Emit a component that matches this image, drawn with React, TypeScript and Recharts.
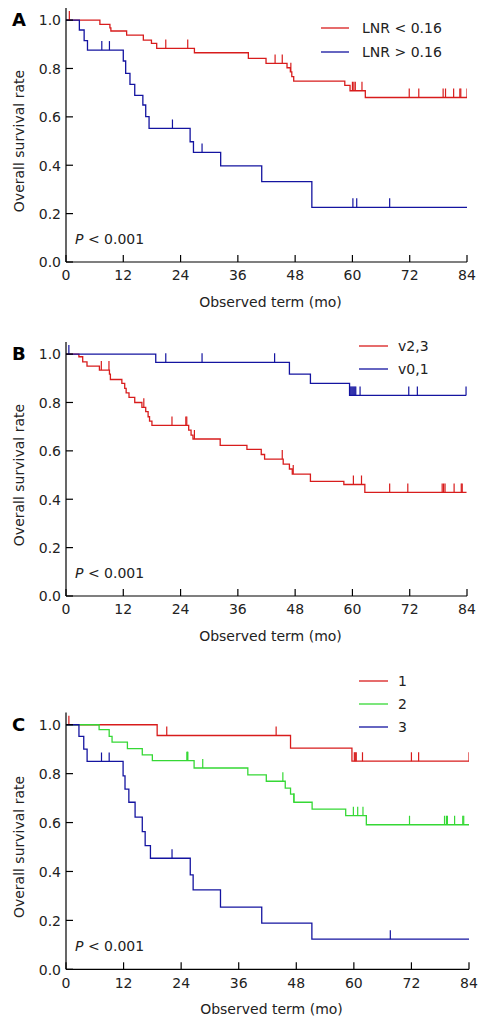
import React from "react";
import { ComposedChart, Line, Scatter, XAxis, YAxis, Legend } from "recharts";

const FONT = "'DejaVu Sans', Verdana, sans-serif";
const RED = "#d81c1c";
const BLUE = "#1414a0";
const GREEN = "#35d835";

const xTicks = [0, 12, 24, 36, 48, 60, 72, 84];
const yTicks = [0, 0.2, 0.4, 0.6, 0.8, 1.0];

// panel A
const aLowTimes = [0, 7.1, 9.2, 9.4, 12.7, 16.2, 17.9, 19.0, 26.9, 38.2, 41.9, 46.3, 47.0, 47.3, 47.7, 58.4, 59.5, 62.7, 84];
const aLowSurv = [1, 0.982, 0.968, 0.955, 0.938, 0.917, 0.904, 0.883, 0.865, 0.842, 0.821, 0.803, 0.786, 0.766, 0.748, 0.73, 0.708, 0.68, 0.68];
const aLowCensor = [0.7, 20.9, 25.5, 43.8, 45.3, 47.1, 60.0, 60.3, 60.6, 62.0, 71.9, 73.9, 79.0, 79.5, 81.2, 82.5, 82.7, 84];
const aHighTimes = [0, 2.8, 3.8, 4.5, 12.0, 12.5, 13.4, 14.4, 16.1, 16.7, 17.4, 26.0, 26.7, 32.4, 41.0, 51.5, 84];
const aHighSurv = [1, 0.959, 0.915, 0.876, 0.831, 0.78, 0.734, 0.689, 0.649, 0.601, 0.552, 0.497, 0.453, 0.397, 0.332, 0.226, 0.226];
const aHighCensor = [7.5, 9.1, 22.3, 28.5, 60.1, 60.9, 67.8];

// panel B
const bV23Times = [0, 2.7, 3.5, 4.4, 7.0, 9.1, 9.3, 11.7, 12.3, 12.6, 13.2, 14.4, 15.9, 16.7, 17.2, 17.5, 18.0, 25.7, 26.2, 26.6, 32.3, 37.9, 40.9, 41.6, 45.5, 46.8, 47.4, 51.2, 58.2, 62.6, 83.9];
const bV23Surv = [1, 0.989, 0.968, 0.95, 0.934, 0.917, 0.895, 0.879, 0.858, 0.84, 0.821, 0.8, 0.78, 0.762, 0.741, 0.723, 0.705, 0.686, 0.665, 0.649, 0.623, 0.606, 0.585, 0.566, 0.545, 0.525, 0.504, 0.474, 0.461, 0.428, 0.428];
const bV23Censor = [7.4, 9.0, 16.3, 22.2, 25.1, 25.3, 26.9, 45.3, 47.6, 60.2, 61.9, 67.8, 71.6, 78.8, 79.1, 79.4, 81.3, 82.8, 83.0];
const bV01Times = [0, 18.8, 46.8, 51.2, 59.4, 83.8];
const bV01Surv = [1, 0.966, 0.917, 0.879, 0.829, 0.829];
const bV01Censor = [0.6, 20.9, 28.5, 43.7, 59.5, 59.7, 59.9, 60.1, 60.3, 60.5, 60.7, 61.6, 71.8, 73.6, 83.8];

// panel C
const c1Times = [0, 19.0, 46.8, 59.6, 84];
const c1Surv = [1, 0.956, 0.904, 0.851, 0.851];
const c1Censor = [0.6, 21.0, 43.8, 60.1, 60.3, 60.5, 61.8, 72.0, 73.5, 84];
const c2Times = [0, 6.9, 9.0, 9.6, 12.8, 15.9, 18.0, 26.7, 37.9, 41.75, 45.7, 46.8, 47.5, 51.3, 58.3, 62.6, 84];
const c2Surv = [1, 0.98, 0.952, 0.929, 0.902, 0.877, 0.853, 0.823, 0.795, 0.769, 0.741, 0.716, 0.683, 0.655, 0.628, 0.591, 0.591];
const c2Censor = [25.2, 25.3, 25.4, 28.5, 45.2, 47.5, 59.9, 60.8, 61.9, 71.6, 78.9, 79.3, 79.5, 81.0, 82.7, 82.9];
const c3Times = [0, 2.7, 3.7, 4.4, 11.9, 12.3, 13.1, 14.4, 15.9, 16.5, 17.6, 25.9, 26.5, 32.2, 40.8, 51.25, 84];
const c3Surv = [1, 0.952, 0.9, 0.85, 0.791, 0.737, 0.683, 0.622, 0.563, 0.506, 0.454, 0.386, 0.325, 0.254, 0.189, 0.123, 0.123];
const c3Censor = [7.4, 9.0, 22.1, 67.6];

type Series = { name: string; color: string; times: number[]; surv: number[]; censors: number[] };

const steps = (s: Series) => s.times.map((t, i) => ({ t, s: s.surv[i] }));
const censorPoints = (s: Series) =>
  s.censors.map((t) => {
    let v = s.surv[0];
    s.times.forEach((tt, i) => {
      if (tt <= t) v = s.surv[i];
    });
    return { t, s: v };
  });

const panels = [
  {
    letter: "A",
    top: 0,
    height: 320,
    margin: { top: 8, right: 24, bottom: 10, left: 0 },
    legend: { left: 321, top: 16, row: 24, line: 28, gap: 13 },
    series: [
      { name: "LNR < 0.16", color: RED, times: aLowTimes, surv: aLowSurv, censors: aLowCensor },
      { name: "LNR > 0.16", color: BLUE, times: aHighTimes, surv: aHighSurv, censors: aHighCensor },
    ],
  },
  {
    letter: "B",
    top: 334,
    height: 320,
    margin: { top: 8, right: 24, bottom: 10, left: 0 },
    legend: { left: 359, top: 0.5, row: 23, line: 29, gap: 10 },
    series: [
      { name: "v2,3", color: RED, times: bV23Times, surv: bV23Surv, censors: bV23Censor },
      { name: "v0,1", color: BLUE, times: bV01Times, surv: bV01Surv, censors: bV01Censor },
    ],
  },
  {
    letter: "C",
    top: 660,
    height: 366,
    margin: { top: 52.5, right: 22, bottom: 8.7, left: 0 },
    legend: { left: 359, top: 9.5, row: 23, line: 29, gap: 10 },
    series: [
      { name: "1", color: RED, times: c1Times, surv: c1Surv, censors: c1Censor },
      { name: "2", color: GREEN, times: c2Times, surv: c2Surv, censors: c2Censor },
      { name: "3", color: BLUE, times: c3Times, surv: c3Surv, censors: c3Censor },
    ],
  },
];

const XTick = (p: any) => (
  <g>
    <line x1={p.x} x2={p.x} y1={p.y - 8} y2={p.y - 15} stroke="#000" strokeWidth={1.2} />
    <text x={p.x} y={p.y} dy="0.73em" textAnchor="middle" fontFamily={FONT} fontSize={14} fill="#222">
      {p.payload.value}
    </text>
  </g>
);

const YTick = (p: any) => (
  <g>
    <line x1={p.x + 5} x2={p.x + 12} y1={p.y} y2={p.y} stroke="#000" strokeWidth={1.2} />
    <text x={p.x} y={p.y} dy="0.38em" textAnchor="end" fontFamily={FONT} fontSize={14} fill="#222">
      {Number(p.payload.value).toFixed(1)}
    </text>
  </g>
);

const XTitle = (p: any) => {
  const vb = p.viewBox;
  return (
    <text x={vb.x + vb.width / 2 + 4} y={vb.y + 45} textAnchor="middle" fontFamily={FONT} fontSize={14} fill="#222">
      Observed term (mo)
    </text>
  );
};

const YTitle = (p: any) => {
  const vb = p.viewBox;
  const cx = 19;
  const cy = vb.y + vb.height * (1 - 0.5 / 1.05);
  return (
    <text x={cx} y={cy} dy="0.36em" transform={`rotate(-90, ${cx}, ${cy})`} textAnchor="middle" fontFamily={FONT} fontSize={14} fill="#222">
      Overall survival rate
    </text>
  );
};

const Censor = (color: string) => (p: any) =>
  <line x1={p.cx} x2={p.cx} y1={p.cy} y2={p.cy - 9} stroke={color} strokeWidth={1.2} />;

function Panel({ cfg }: { cfg: (typeof panels)[number] }) {
  const lg = cfg.legend;
  // legend rows follow the series order (recharts would sort them by name)
  const renderLegend = () => (
    <div style={{ fontFamily: FONT, fontSize: 14, color: "#222" }}>
      {cfg.series.map((s) => (
        <div key={s.name} style={{ height: lg.row, display: "flex", alignItems: "center", whiteSpace: "nowrap" }}>
          <svg width={lg.line} height={4} style={{ marginRight: lg.gap }}>
            <line x1={0} x2={lg.line} y1={2} y2={2} stroke={s.color} strokeWidth={1.3} />
          </svg>
          <span>{s.name}</span>
        </div>
      ))}
    </div>
  );
  const plotBottom = cfg.height - cfg.margin.bottom - 48;
  return (
    <div style={{ position: "absolute", left: 0, top: cfg.top, width: 491, height: cfg.height }}>
      <ComposedChart width={491} height={cfg.height} margin={cfg.margin}>
        <XAxis
          type="number"
          dataKey="t"
          domain={[0, 84]}
          ticks={xTicks}
          interval={0}
          allowDataOverflow
          height={48}
          tickSize={0}
          tickMargin={8}
          tickLine={false}
          axisLine={{ stroke: "#000", strokeWidth: 1.2 }}
          tick={(p: any) => <XTick {...p} />}
          label={{ content: (p: any) => <XTitle {...p} /> }}
        />
        <YAxis
          type="number"
          dataKey="s"
          domain={[0, 1.05]}
          ticks={yTicks}
          interval={0}
          allowDataOverflow
          width={66}
          tickSize={0}
          tickMargin={5}
          tickLine={false}
          axisLine={{ stroke: "#000", strokeWidth: 1.2 }}
          tick={(p: any) => <YTick {...p} />}
          label={{ content: (p: any) => <YTitle {...p} /> }}
        />
        <Legend
          layout="vertical"
          align="center"
          verticalAlign="middle"
          wrapperStyle={{ left: lg.left, top: lg.top, width: "auto" }}
          content={renderLegend}
        />
        {cfg.series.map((s) => (
          <Line
            key={s.name}
            name={s.name}
            data={steps(s)}
            dataKey="s"
            type="stepAfter"
            stroke={s.color}
            strokeWidth={1.3}
            dot={false}
            activeDot={false}
            isAnimationActive={false}
          />
        ))}
        {cfg.series.map((s) => (
          <Scatter
            key={s.name + "-c"}
            data={censorPoints(s)}
            dataKey="s"
            legendType="none"
            shape={Censor(s.color)}
            isAnimationActive={false}
          />
        ))}
      </ComposedChart>
      <div style={{ position: "absolute", left: 12, top: cfg.margin.top + 3.3, fontFamily: FONT, fontSize: 18, lineHeight: "18px", fontWeight: "bold", color: "#000" }}>
        {cfg.letter}
      </div>
      <div style={{ position: "absolute", left: 75, top: plotBottom - 30, fontFamily: FONT, fontSize: 14, lineHeight: "14px", color: "#222", whiteSpace: "nowrap" }}>
        <i>P</i> &lt; 0.001
      </div>
    </div>
  );
}

export default function App() {
  return (
    <div style={{ position: "absolute", left: 0, top: 0, width: 491, height: 1026, background: "#fff" }}>
      {panels.map((p) => (
        <Panel key={p.letter} cfg={p} />
      ))}
    </div>
  );
}
